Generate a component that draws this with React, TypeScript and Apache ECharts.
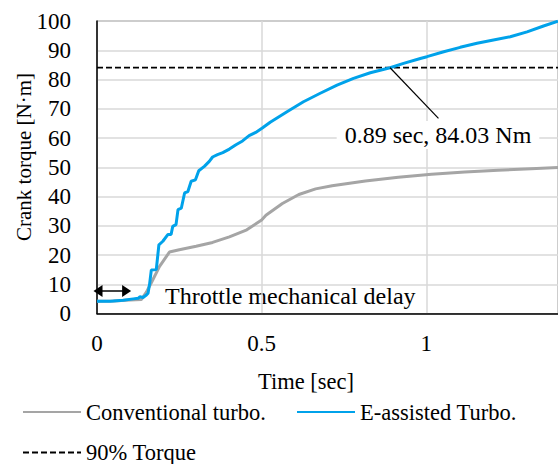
import React, { useEffect, useRef } from "react";
import * as echarts from "echarts";

// E-assisted turbo (blue)
const eTurboTime = [0, 0.04, 0.08, 0.11, 0.125, 0.13, 0.14, 0.15, 0.155, 0.16, 0.165, 0.18, 0.188, 0.2, 0.215, 0.225, 0.23, 0.24, 0.246, 0.256, 0.266, 0.276, 0.286, 0.299, 0.309, 0.326, 0.341, 0.351, 0.366, 0.382, 0.402, 0.422, 0.442, 0.462, 0.482, 0.502, 0.526, 0.577, 0.627, 0.678, 0.729, 0.779, 0.83, 0.89, 0.931, 0.982, 1.002, 1.053, 1.103, 1.154, 1.204, 1.255, 1.306, 1.356, 1.4];
const eTurboTorque = [4.2, 4.2, 4.5, 5.0, 5.2, 5.7, 5.5, 6.3, 6.9, 10.3, 14.9, 15.0, 23.5, 24.7, 27.0, 27.0, 29.8, 30.4, 35.5, 36.0, 41.2, 41.7, 45.2, 45.7, 48.8, 50.3, 52.0, 53.5, 54.3, 55.0, 56.2, 57.7, 59.0, 60.8, 61.9, 63.4, 65.4, 69.0, 72.4, 75.3, 78.1, 80.4, 82.3, 84.03, 85.5, 87.2, 87.8, 89.5, 91.0, 92.4, 93.5, 94.6, 96.3, 98.3, 99.9];

// Conventional turbo (gray)
const convTime = [0, 0.05, 0.1, 0.135, 0.15, 0.165, 0.19, 0.22, 0.25, 0.301, 0.351, 0.402, 0.455, 0.5, 0.513, 0.563, 0.613, 0.664, 0.714, 0.815, 0.915, 1.016, 1.117, 1.218, 1.318, 1.4];
const convTorque = [4.2, 4.3, 4.6, 4.8, 7.3, 10.5, 16.1, 21.0, 21.8, 23.0, 24.3, 26.2, 28.6, 32.0, 33.6, 37.6, 40.7, 42.6, 43.7, 45.3, 46.6, 47.6, 48.4, 49.0, 49.5, 49.9];

// 90% torque reference
const torque90 = 84.03;
const torque90Span = [0, 1.4];

// annotations
const crossPoint = [0.89, 84.03];
const leaderEnd = [1.037, 66.7];
const delayArrow = [[0.003, 7.7], [0.09, 7.7]];

const seriesNames = ["Conventional turbo.", "E-assisted Turbo.", "90% Torque"];
const xTicks = [0, 0.5, 1];
const yMin = 0, yMax = 100, yStep = 10;

const FONT = "Liberation Serif";

export default function App() {
  const ref = useRef<HTMLDivElement>(null);
  useEffect(() => {
    if (!ref.current) return;
    const chart = echarts.init(ref.current, null, { renderer: "svg" });
    const tick = { fontFamily: FONT, fontSize: 23, color: "#000" };
    const leg = { fontFamily: FONT, fontSize: 22.5, color: "#000" };
    const legendCommon = {
      padding: 0, itemWidth: 58, itemHeight: 14, textStyle: leg, selectedMode: false,
      itemStyle: { color: "rgba(0,0,0,0)", borderColor: "rgba(0,0,0,0)", borderWidth: 0 },
    };
    chart.setOption({
      animation: false,
      grid: { left: 97, right: 0, top: 21, bottom: 150.5, show: true, borderColor: "#595959", borderWidth: 1, backgroundColor: "transparent" },
      xAxis: {
        type: "value", min: 0, max: 1.4, interval: 0.5,
        axisLine: { show: true, lineStyle: { color: "#000", width: 1.5 } },
        axisTick: { show: false },
        splitLine: { show: true, lineStyle: { color: "#d9d9d9", width: 1.5 } },
        axisLabel: { ...tick, margin: 18, showMaxLabel: false, formatter: (v: number) => (xTicks.includes(v) ? String(v) : "") },
      },
      yAxis: {
        type: "value", min: yMin, max: yMax, interval: yStep,
        axisLine: { show: true, lineStyle: { color: "#000", width: 1.5 } },
        axisTick: { show: false },
        splitLine: { show: true, lineStyle: { color: "#d9d9d9", width: 1.5 } },
        axisLabel: { ...tick, margin: 26 },
      },
      legend: [
        { ...legendCommon, data: [seriesNames[0]], left: 22, top: 400.5 },
        { ...legendCommon, data: [seriesNames[1]], left: 296, top: 400.5 },
        { ...legendCommon, data: [seriesNames[2]], left: 22, top: 441 },
      ],
      series: [
        {
          name: seriesNames[0], type: "line", symbol: "none",
          data: convTime.map((t, i) => [t, convTorque[i]]),
          lineStyle: { color: "#a5a5a5", width: 3 }, itemStyle: { color: "#a5a5a5" },
        },
        {
          name: seriesNames[2], type: "line", symbol: "none",
          data: torque90Span.map((t) => [t, torque90]),
          lineStyle: { color: "#000", width: 1.75, type: [6, 3] }, itemStyle: { color: "#000" },
        },
        {
          name: seriesNames[1], type: "line", symbol: "none",
          data: eTurboTime.map((t, i) => [t, eTurboTorque[i]]),
          lineStyle: { color: "#00a2ea", width: 3 }, itemStyle: { color: "#00a2ea" },
        },
        {
          name: "annotations", type: "line", data: [], silent: true,
          markLine: {
            silent: true, animation: false,
            label: { show: false },
            emphasis: { disabled: true },
            data: [
              [
                { coord: delayArrow[0], symbol: "triangle", symbolSize: [12, 9], lineStyle: { color: "#000", width: 1.5, type: "solid" }, itemStyle: { color: "#000" } },
                { coord: delayArrow[1], symbol: "triangle", symbolSize: [12, 9], itemStyle: { color: "#000" } },
              ],
              [
                { coord: crossPoint, symbol: "none", lineStyle: { color: "#000", width: 1.2, type: "solid" } },
                { coord: leaderEnd, symbol: "none" },
              ],
            ],
          },
        },
      ],
      graphic: [
        { type: "text", x: 24, y: 157, rotation: Math.PI / 2, style: { text: "Crank torque [N·m]", fontFamily: FONT, fontSize: 21, fill: "#000", align: "center", verticalAlign: "middle" } },
        { type: "text", x: 306, y: 381, style: { text: "Time [sec]", fontFamily: FONT, fontSize: 22.5, fill: "#000", align: "center", verticalAlign: "middle" } },
        { type: "text", x: 438, y: 135, z: 10, style: { text: "0.89 sec, 84.03 Nm", fontFamily: FONT, fontSize: 24, fill: "#000", align: "center", verticalAlign: "middle", backgroundColor: "#fff", padding: [2, 8] } },
        { type: "text", x: 165, y: 296, style: { text: "Throttle mechanical delay", fontFamily: FONT, fontSize: 24, fill: "#000", align: "left", verticalAlign: "middle" } },
      ],
    });
    return () => chart.dispose();
  }, []);
  return <div ref={ref} style={{ position: "fixed", left: 0, top: 0, width: 558, height: 464, background: "#fff" }} />;
}
